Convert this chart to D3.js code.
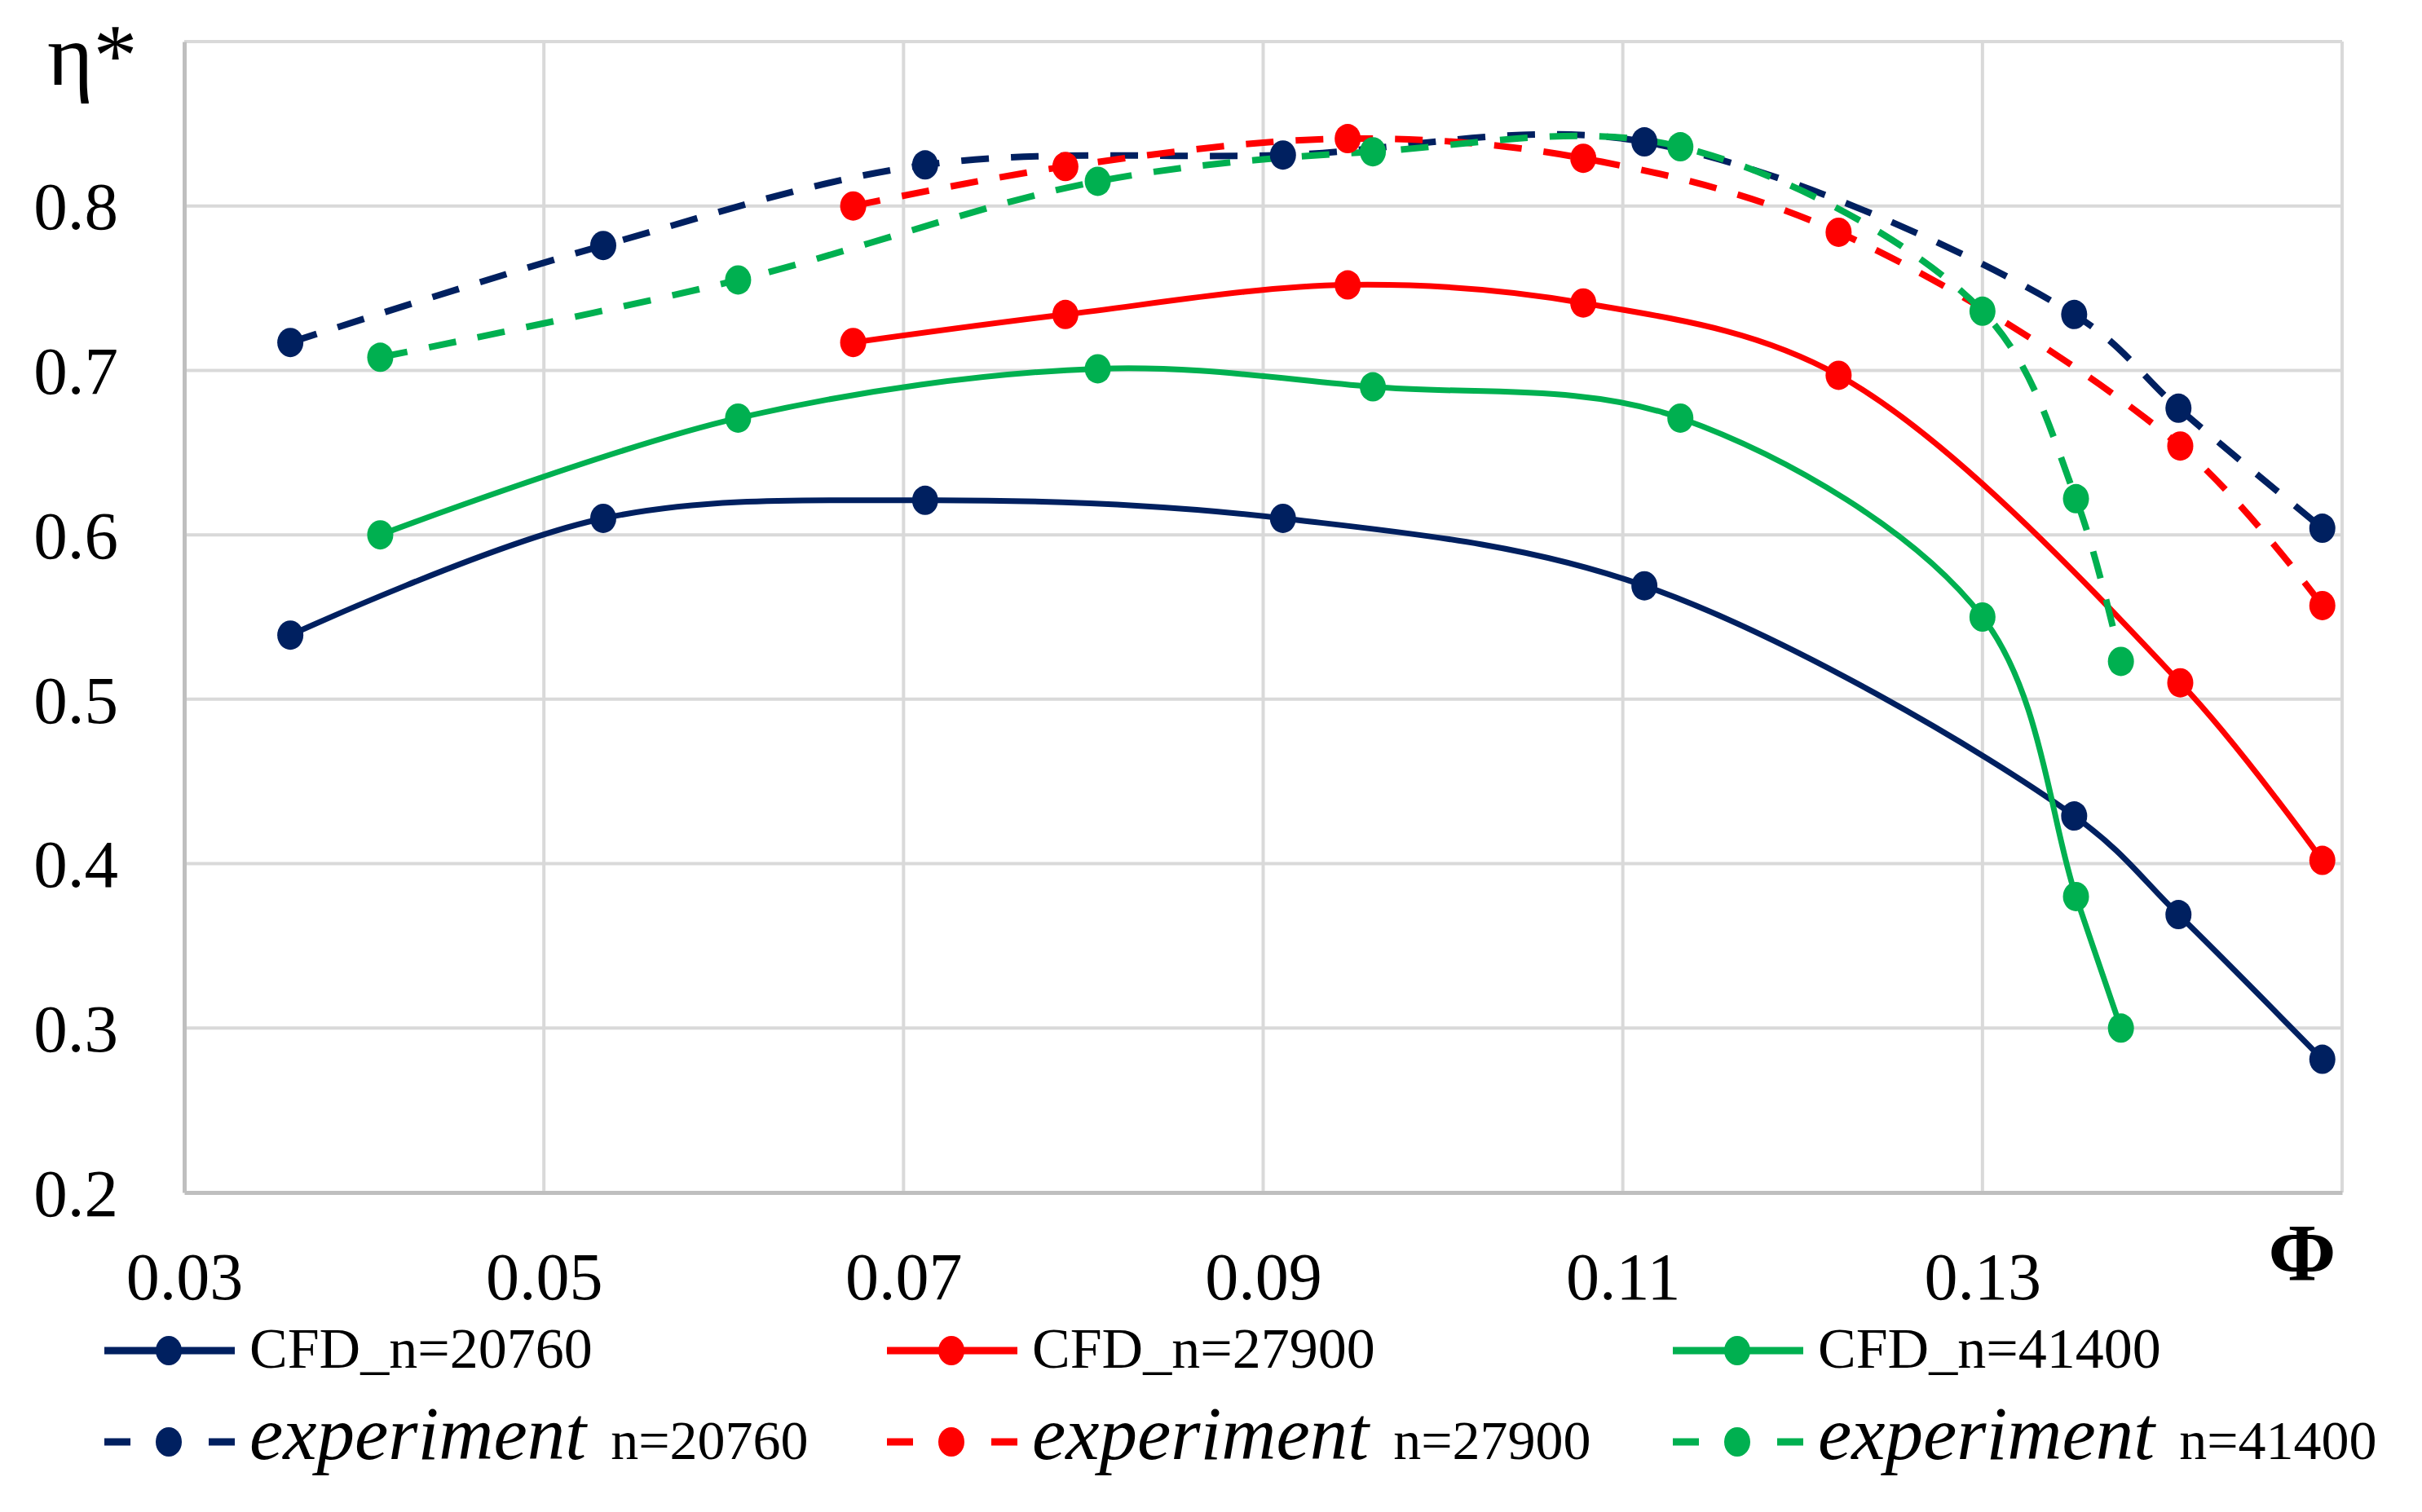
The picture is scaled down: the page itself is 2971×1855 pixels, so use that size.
<!DOCTYPE html>
<html>
<head>
<meta charset="utf-8">
<script src="https://cdn.jsdelivr.net/npm/d3@7"></script>
<style>
  body { margin: 0; background: #fff; }
  text { font-family: 'Liberation Serif', 'Times New Roman', serif; fill: #000; }
</style>
</head>
<body>
<div class="main"></div>
<script>
// Chart size
const width = 2971;
const height = 1855;
const margin = { top: 51, right: 98, bottom: 392, left: 226 };

// Data (Phi, eta*)
const phi20760 = [0.0359, 0.0533, 0.0712, 0.0911, 0.1112, 0.1351, 0.1409, 0.1489];
const cfd20760 = [0.539, 0.610, 0.621, 0.610, 0.569, 0.429, 0.369, 0.281];
const exp20760 = [0.717, 0.776, 0.825, 0.831, 0.839, 0.734, 0.677, 0.604];

const phi27900 = [0.0672, 0.0790, 0.0947, 0.1078, 0.1220, 0.1410, 0.1489];
const cfd27900 = [0.717, 0.734, 0.752, 0.741, 0.697, 0.510, 0.402];
const exp27900 = [0.800, 0.824, 0.841, 0.829, 0.784, 0.654, 0.557];

const phi41400 = [0.0409, 0.0608, 0.0808, 0.0961, 0.1132, 0.1300, 0.1352, 0.1377];
const cfd41400 = [0.600, 0.671, 0.701, 0.690, 0.671, 0.550, 0.380, 0.300];
const exp41400 = [0.708, 0.755, 0.815, 0.833, 0.836, 0.736, 0.622, 0.523];

const speeds = ['20760', '27900', '41400'];
const xTicks = [0.03, 0.05, 0.07, 0.09, 0.11, 0.13];
const yTicks = [0.2, 0.3, 0.4, 0.5, 0.6, 0.7, 0.8];
const xGrid = [0.05, 0.07, 0.09, 0.11, 0.13, 0.15];
const yGrid = [0.3, 0.4, 0.5, 0.6, 0.7, 0.8, 0.9];

const colors = { '20760': '#002060', '27900': '#ff0000', '41400': '#00b050' };

const toPoints = (xs, ys) => xs.map((v, i) => ({ phi: v, eta: ys[i] }));

// Same order as the legend: CFD first, then experiment
const series = [
    { kind: 'cfd', n: '20760', pts: toPoints(phi20760, cfd20760) },
    { kind: 'cfd', n: '27900', pts: toPoints(phi27900, cfd27900) },
    { kind: 'cfd', n: '41400', pts: toPoints(phi41400, cfd41400) },
    { kind: 'exp', n: '20760', pts: toPoints(phi20760, exp20760) },
    { kind: 'exp', n: '27900', pts: toPoints(phi27900, exp27900) },
    { kind: 'exp', n: '41400', pts: toPoints(phi41400, exp41400) },
];

const svg = d3.select('.main')
    .append('svg')
    .attr('width', width)
    .attr('height', height)
    .style('display', 'block');

const x = d3.scaleLinear()
    .domain([0.03, 0.15])
    .range([margin.left, width - margin.right]);

const y = d3.scaleLinear()
    .domain([0.2, 0.9])
    .range([height - margin.bottom, margin.top]);

// Grid lines
svg.append('g')
    .selectAll('line')
    .data(xGrid)
    .enter()
    .append('line')
    .attr('x1', d => x(d)).attr('x2', d => x(d))
    .attr('y1', y(0.9)).attr('y2', y(0.2))
    .attr('stroke', '#d9d9d9')
    .attr('stroke-width', 4);

svg.append('g')
    .selectAll('line')
    .data(yGrid)
    .enter()
    .append('line')
    .attr('x1', x(0.03)).attr('x2', x(0.15))
    .attr('y1', d => y(d)).attr('y2', d => y(d))
    .attr('stroke', '#d9d9d9')
    .attr('stroke-width', 4);

// Axes
svg.append('g')
    .attr('transform', `translate(0, ${y(0.2)})`)
    .call(d3.axisBottom(x).tickValues(xTicks).tickFormat(d3.format('.2f')).tickSize(0))
    .call(g => g.select('.domain').attr('stroke', '#bfbfbf').attr('stroke-width', 5))
    .call(g => g.selectAll('text')
        .attr('y', 131)
        .attr('dy', 0)
        .style('font-size', '82px')
        .style('font-family', "'Liberation Serif', serif"));

svg.append('g')
    .attr('transform', `translate(${x(0.03)}, 0)`)
    .call(d3.axisLeft(y).tickValues(yTicks).tickFormat(d3.format('.1f')).tickSize(0).tickPadding(81))
    .call(g => g.select('.domain').attr('stroke', '#bfbfbf').attr('stroke-width', 5))
    .call(g => g.selectAll('text')
        .attr('dy', '0.34em')
        .style('font-size', '83px')
        .style('font-family', "'Liberation Serif', serif"));

// Axis titles
svg.append('text')
    .attr('x', 58)
    .attr('y', 104)
    .style('font-size', '108px')
    .text('η*');

svg.append('text')
    .attr('x', 2824)
    .attr('y', 1570)
    .attr('text-anchor', 'middle')
    .style('font-size', '100px')
    .style('font-weight', 'bold')
    .text('Φ');

// Curves
const line = d3.line()
    .x(d => x(d.phi))
    .y(d => y(d.eta))
    .curve(d3.curveCatmullRom.alpha(0.5));

const dash = '34,27';

svg.append('g')
    .selectAll('path')
    .data(series)
    .enter()
    .append('path')
    .attr('d', d => line(d.pts))
    .attr('fill', 'none')
    .attr('stroke', d => colors[d.n])
    .attr('stroke-width', d => d.kind === 'cfd' ? 7 : 8)
    .attr('stroke-dasharray', d => d.kind === 'cfd' ? null : dash);

// Markers
const markers = svg.append('g');
series.forEach(s => {
    markers.append('g')
        .selectAll('ellipse')
        .data(s.pts)
        .enter()
        .append('ellipse')
        .attr('cx', d => x(d.phi))
        .attr('cy', d => y(d.eta))
        .attr('rx', 16)
        .attr('ry', 18)
        .attr('fill', colors[s.n]);
});

// Legend
const legendCols = [128, 1088, 2052];
const legendRows = { cfd: { base: 1678, mark: 1657 }, exp: { base: 1790, mark: 1769 } };

series.forEach(s => {
    const col = speeds.indexOf(s.n);
    const x0 = legendCols[col];
    const row = legendRows[s.kind];
    const g = svg.append('g');
    const c = colors[s.n];

    if (s.kind === 'cfd') {
        g.append('line')
            .attr('x1', x0).attr('x2', x0 + 160)
            .attr('y1', row.mark).attr('y2', row.mark)
            .attr('stroke', c).attr('stroke-width', 9);
    } else {
        [[x0, x0 + 32], [x0 + 128, x0 + 160]].forEach(seg => {
            g.append('line')
                .attr('x1', seg[0]).attr('x2', seg[1])
                .attr('y1', row.mark).attr('y2', row.mark)
                .attr('stroke', c).attr('stroke-width', 9);
        });
    }
    g.append('ellipse')
        .attr('cx', x0 + 79).attr('cy', row.mark)
        .attr('rx', 16).attr('ry', 18)
        .attr('fill', c);

    if (s.kind === 'cfd') {
        g.append('text')
            .attr('x', x0 + 178)
            .attr('y', row.base)
            .style('font-size', '70px')
            .text('CFD_n=' + s.n);
    } else {
        const t = g.append('text')
            .attr('x', x0 + 178)
            .attr('y', row.base)
            .style('font-size', '93px')
            .style('font-style', 'italic')
            .text('experiment');
        const w = t.node().getComputedTextLength();
        g.append('text')
            .attr('x', x0 + 178 + w + 30)
            .attr('y', row.base)
            .style('font-size', '68px')
            .text('n=' + s.n);
    }
});
</script>
</body>
</html>
